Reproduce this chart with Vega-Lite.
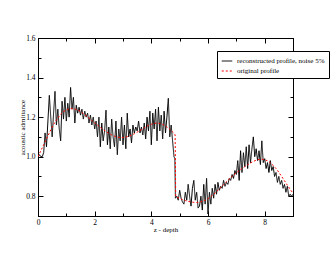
{
  "$schema": "https://vega.github.io/schema/vega-lite/v6.json",
  "autosize": {"type": "none"},
  "padding": {"left": 38, "top": 38, "right": 37, "bottom": 39},
  "width": 255,
  "height": 178,
  "background": "white",
  "config": {
    "view": {"stroke": "#000", "strokeWidth": 1},
    "font": "Liberation Serif",
    "axis": {"labelFont": "Liberation Serif", "titleFont": "Liberation Serif", "labelFontSize": 7.5, "titleFontSize": 7, "titleFontWeight": "normal", "labelColor": "#000", "titleColor": "#000", "domainColor": "#000", "tickColor": "#000", "grid": false},
    "legend": {"labelFont": "Liberation Serif", "labelFontSize": 7, "labelColor": "#000"}
  },
  "datasets": {
    "rec": [
      {"z":0.00,"v":1.00},{"z":0.05,"v":1.01},{"z":0.10,"v":1.00},{"z":0.15,"v":1.00},{"z":0.20,"v":1.02},{"z":0.25,"v":1.12},{"z":0.30,"v":1.05},{"z":0.35,"v":1.18},{"z":0.40,"v":1.31},{"z":0.45,"v":1.20},
      {"z":0.50,"v":1.10},{"z":0.55,"v":1.22},{"z":0.60,"v":1.33},{"z":0.65,"v":1.16},{"z":0.70,"v":1.24},{"z":0.75,"v":1.14},{"z":0.80,"v":1.08},{"z":0.85,"v":1.28},{"z":0.90,"v":1.19},{"z":0.95,"v":1.30},
      {"z":1.00,"v":1.18},{"z":1.05,"v":1.27},{"z":1.10,"v":1.20},{"z":1.15,"v":1.35},{"z":1.20,"v":1.24},{"z":1.25,"v":1.30},{"z":1.30,"v":1.17},{"z":1.35,"v":1.26},{"z":1.40,"v":1.22},{"z":1.45,"v":1.25},
      {"z":1.50,"v":1.21},{"z":1.55,"v":1.24},{"z":1.60,"v":1.19},{"z":1.65,"v":1.23},{"z":1.70,"v":1.20},{"z":1.75,"v":1.22},{"z":1.80,"v":1.17},{"z":1.85,"v":1.21},{"z":1.90,"v":1.16},{"z":1.95,"v":1.20},
      {"z":2.00,"v":1.14},{"z":2.05,"v":1.18},{"z":2.10,"v":1.10},{"z":2.15,"v":1.20},{"z":2.20,"v":1.05},{"z":2.25,"v":1.17},{"z":2.30,"v":1.08},{"z":2.35,"v":1.13},{"z":2.40,"v":1.235},{"z":2.45,"v":1.06},
      {"z":2.50,"v":1.15},{"z":2.55,"v":1.04},{"z":2.60,"v":1.19},{"z":2.65,"v":1.10},{"z":2.70,"v":1.05},{"z":2.75,"v":1.18},{"z":2.80,"v":1.01},{"z":2.85,"v":1.14},{"z":2.90,"v":1.08},{"z":2.95,"v":1.20},
      {"z":3.00,"v":1.06},{"z":3.05,"v":1.16},{"z":3.10,"v":1.04},{"z":3.15,"v":1.22},{"z":3.20,"v":1.10},{"z":3.25,"v":1.14},{"z":3.30,"v":1.07},{"z":3.35,"v":1.16},{"z":3.40,"v":1.12},{"z":3.45,"v":1.15},
      {"z":3.50,"v":1.13},{"z":3.55,"v":1.18},{"z":3.60,"v":1.12},{"z":3.65,"v":1.15},{"z":3.70,"v":1.11},{"z":3.75,"v":1.17},{"z":3.80,"v":1.09},{"z":3.85,"v":1.20},{"z":3.90,"v":1.13},{"z":3.95,"v":1.23},
      {"z":4.00,"v":1.06},{"z":4.05,"v":1.22},{"z":4.10,"v":1.14},{"z":4.15,"v":1.24},{"z":4.20,"v":1.08},{"z":4.25,"v":1.25},{"z":4.30,"v":1.13},{"z":4.35,"v":1.21},{"z":4.40,"v":1.09},{"z":4.45,"v":1.23},
      {"z":4.50,"v":1.12},{"z":4.55,"v":1.20},{"z":4.60,"v":1.295},{"z":4.65,"v":1.10},{"z":4.70,"v":1.16},{"z":4.75,"v":1.08},{"z":4.80,"v":1.00},{"z":4.83,"v":0.99},{"z":4.85,"v":0.79},{"z":4.90,"v":0.80},{"z":4.95,"v":0.78},
      {"z":5.00,"v":0.83},{"z":5.05,"v":0.79},{"z":5.10,"v":0.77},{"z":5.15,"v":0.76},{"z":5.20,"v":0.82},{"z":5.25,"v":0.78},{"z":5.30,"v":0.86},{"z":5.35,"v":0.80},{"z":5.40,"v":0.75},{"z":5.45,"v":0.84},
      {"z":5.50,"v":0.88},{"z":5.55,"v":0.78},{"z":5.60,"v":0.82},{"z":5.65,"v":0.74},{"z":5.70,"v":0.75},{"z":5.75,"v":0.80},{"z":5.80,"v":0.73},{"z":5.85,"v":0.86},{"z":5.90,"v":0.76},{"z":5.95,"v":0.89},
      {"z":6.00,"v":0.71},{"z":6.05,"v":0.82},{"z":6.10,"v":0.76},{"z":6.15,"v":0.84},{"z":6.20,"v":0.79},{"z":6.25,"v":0.86},{"z":6.30,"v":0.81},{"z":6.35,"v":0.87},{"z":6.40,"v":0.83},{"z":6.45,"v":0.85},
      {"z":6.50,"v":0.84},{"z":6.55,"v":0.88},{"z":6.60,"v":0.85},{"z":6.65,"v":0.87},{"z":6.70,"v":0.86},{"z":6.75,"v":0.89},{"z":6.80,"v":0.88},{"z":6.85,"v":0.91},{"z":6.90,"v":0.89},{"z":6.95,"v":0.93},
      {"z":7.00,"v":0.91},{"z":7.05,"v":0.98},{"z":7.10,"v":0.88},{"z":7.15,"v":1.03},{"z":7.20,"v":0.92},{"z":7.25,"v":1.02},{"z":7.30,"v":0.95},{"z":7.35,"v":1.05},{"z":7.40,"v":0.94},{"z":7.45,"v":1.06},
      {"z":7.50,"v":0.97},{"z":7.55,"v":1.04},{"z":7.60,"v":1.10},{"z":7.65,"v":1.00},{"z":7.70,"v":1.04},{"z":7.75,"v":0.98},{"z":7.80,"v":1.03},{"z":7.85,"v":0.96},{"z":7.90,"v":1.08},{"z":7.95,"v":0.97},
      {"z":8.00,"v":0.99},{"z":8.05,"v":0.94},{"z":8.10,"v":0.97},{"z":8.15,"v":0.92},{"z":8.20,"v":0.98},{"z":8.25,"v":0.93},{"z":8.30,"v":0.95},{"z":8.35,"v":0.90},{"z":8.40,"v":0.92},{"z":8.45,"v":0.87},
      {"z":8.50,"v":0.90},{"z":8.55,"v":0.86},{"z":8.60,"v":0.88},{"z":8.65,"v":0.84},{"z":8.70,"v":0.86},{"z":8.75,"v":0.82},{"z":8.80,"v":0.85},{"z":8.85,"v":0.80},{"z":8.90,"v":0.81},{"z":8.95,"v":0.80},{"z":9.00,"v":0.81}
    ],
    "orig": [
      {"z":0.0,"v":1.000},{"z":0.1,"v":1.030},{"z":0.2,"v":1.060},{"z":0.3,"v":1.090},{"z":0.4,"v":1.120},{"z":0.5,"v":1.150},{"z":0.6,"v":1.175},{"z":0.7,"v":1.195},{"z":0.8,"v":1.215},{"z":0.9,"v":1.228},
      {"z":1.0,"v":1.237},{"z":1.1,"v":1.242},{"z":1.2,"v":1.243},{"z":1.3,"v":1.241},{"z":1.4,"v":1.236},{"z":1.5,"v":1.228},{"z":1.6,"v":1.218},{"z":1.7,"v":1.207},{"z":1.8,"v":1.195},{"z":1.9,"v":1.183},
      {"z":2.0,"v":1.171},{"z":2.1,"v":1.160},{"z":2.2,"v":1.148},{"z":2.3,"v":1.137},{"z":2.4,"v":1.127},{"z":2.5,"v":1.118},{"z":2.6,"v":1.110},{"z":2.7,"v":1.104},{"z":2.8,"v":1.099},{"z":2.9,"v":1.097},
      {"z":3.0,"v":1.097},{"z":3.1,"v":1.099},{"z":3.2,"v":1.103},{"z":3.3,"v":1.109},{"z":3.4,"v":1.116},{"z":3.5,"v":1.124},{"z":3.6,"v":1.132},{"z":3.7,"v":1.141},{"z":3.8,"v":1.150},{"z":3.9,"v":1.158},
      {"z":4.0,"v":1.164},{"z":4.1,"v":1.168},{"z":4.2,"v":1.170},{"z":4.3,"v":1.168},{"z":4.4,"v":1.163},{"z":4.5,"v":1.155},{"z":4.6,"v":1.145},{"z":4.7,"v":1.132},{"z":4.8,"v":1.118},{"z":4.84,"v":1.110},
      {"z":4.86,"v":0.800},{"z":4.9,"v":0.795},{"z":5.0,"v":0.789},{"z":5.1,"v":0.783},{"z":5.2,"v":0.778},{"z":5.3,"v":0.774},{"z":5.4,"v":0.771},{"z":5.5,"v":0.769},{"z":5.6,"v":0.768},{"z":5.7,"v":0.770},
      {"z":5.8,"v":0.774},{"z":5.9,"v":0.780},{"z":6.0,"v":0.788},{"z":6.1,"v":0.798},{"z":6.2,"v":0.810},{"z":6.3,"v":0.823},{"z":6.4,"v":0.837},{"z":6.5,"v":0.851},{"z":6.6,"v":0.866},{"z":6.7,"v":0.880},
      {"z":6.8,"v":0.894},{"z":6.9,"v":0.907},{"z":7.0,"v":0.918},{"z":7.1,"v":0.929},{"z":7.2,"v":0.940},{"z":7.3,"v":0.950},{"z":7.4,"v":0.959},{"z":7.5,"v":0.968},{"z":7.6,"v":0.976},{"z":7.7,"v":0.982},
      {"z":7.8,"v":0.986},{"z":7.9,"v":0.987},{"z":8.0,"v":0.985},{"z":8.1,"v":0.979},{"z":8.2,"v":0.969},{"z":8.3,"v":0.956},{"z":8.4,"v":0.940},{"z":8.5,"v":0.921},{"z":8.6,"v":0.900},{"z":8.7,"v":0.878},
      {"z":8.8,"v":0.856},{"z":8.9,"v":0.835},{"z":9.0,"v":0.815}
    ]
  },
  "layer": [
    {
      "data": {"name": "rec"},
      "transform": [{"calculate": "'reconstructed profile, noise 5%'", "as": "series"}],
      "mark": {"type": "line", "strokeWidth": 1, "clip": true},
      "encoding": {
        "x": {"field": "z", "type": "quantitative", "scale": {"domain": [0, 9], "nice": false, "zero": false},
          "axis": {"orient": "bottom", "title": "z - depth", "values": [0,1,2,3,4,5,6,7,8,9], "labelExpr": "datum.value % 2 == 0 ? datum.label : ''", "tickSize": {"condition": {"test": "datum.value % 2 == 0", "value": -5}, "value": -3}, "labelPadding": 7.5, "titleY": 13, "titleBaseline": "middle", "labelFlush": false}},
        "y": {"field": "v", "type": "quantitative", "scale": {"domain": [0.7, 1.6], "nice": false, "zero": false},
          "axis": {"orient": "left", "title": "acoustic admittance", "values": [0.7,0.8,0.9,1.0,1.1,1.2,1.3,1.4,1.5,1.6], "labelExpr": "(round(datum.value*10) % 2 == 0) ? datum.label : ''", "tickSize": {"condition": {"test": "round(datum.value*10) % 2 == 0", "value": -5}, "value": -3}, "labelPadding": 8, "titleX": -15.5, "titleBaseline": "middle", "labelFlush": false}},
        "color": {"field": "series", "type": "nominal", "scale": {"domain": ["reconstructed profile, noise 5%", "original profile"], "range": ["#000000", "#ff0000"]},
          "legend": {"title": null, "orient": "none", "legendX": 179, "legendY": 13, "symbolType": "stroke", "symbolSize": 110, "symbolStrokeWidth": 1, "strokeColor": "#000", "padding": 4, "rowPadding": 1, "labelLimit": 200, "labelColor": "#000", "fillColor": "#fff"}},
        "strokeDash": {"field": "series", "type": "nominal", "scale": {"domain": ["reconstructed profile, noise 5%", "original profile"], "range": [[1, 0], [2, 2]]}, "legend": null}
      }
    },
    {
      "data": {"name": "orig"},
      "transform": [{"calculate": "'original profile'", "as": "series"}],
      "mark": {"type": "line", "strokeWidth": 1, "clip": true},
      "encoding": {
        "x": {"field": "z", "type": "quantitative",
          "axis": {"orient": "top", "title": null, "values": [0,1,2,3,4,5,6,7,8,9], "labels": false, "tickSize": {"condition": {"test": "datum.value % 2 == 0", "value": -5}, "value": -3}}},
        "y": {"field": "v", "type": "quantitative",
          "axis": {"orient": "right", "title": null, "values": [0.7,0.8,0.9,1.0,1.1,1.2,1.3,1.4,1.5,1.6], "labels": false, "tickSize": {"condition": {"test": "round(datum.value*10) % 2 == 0", "value": -5}, "value": -3}}},
        "color": {"field": "series", "type": "nominal"},
        "strokeDash": {"field": "series", "type": "nominal"}
      }
    }
  ],
  "resolve": {"axis": {"x": "independent", "y": "independent"}}
}
